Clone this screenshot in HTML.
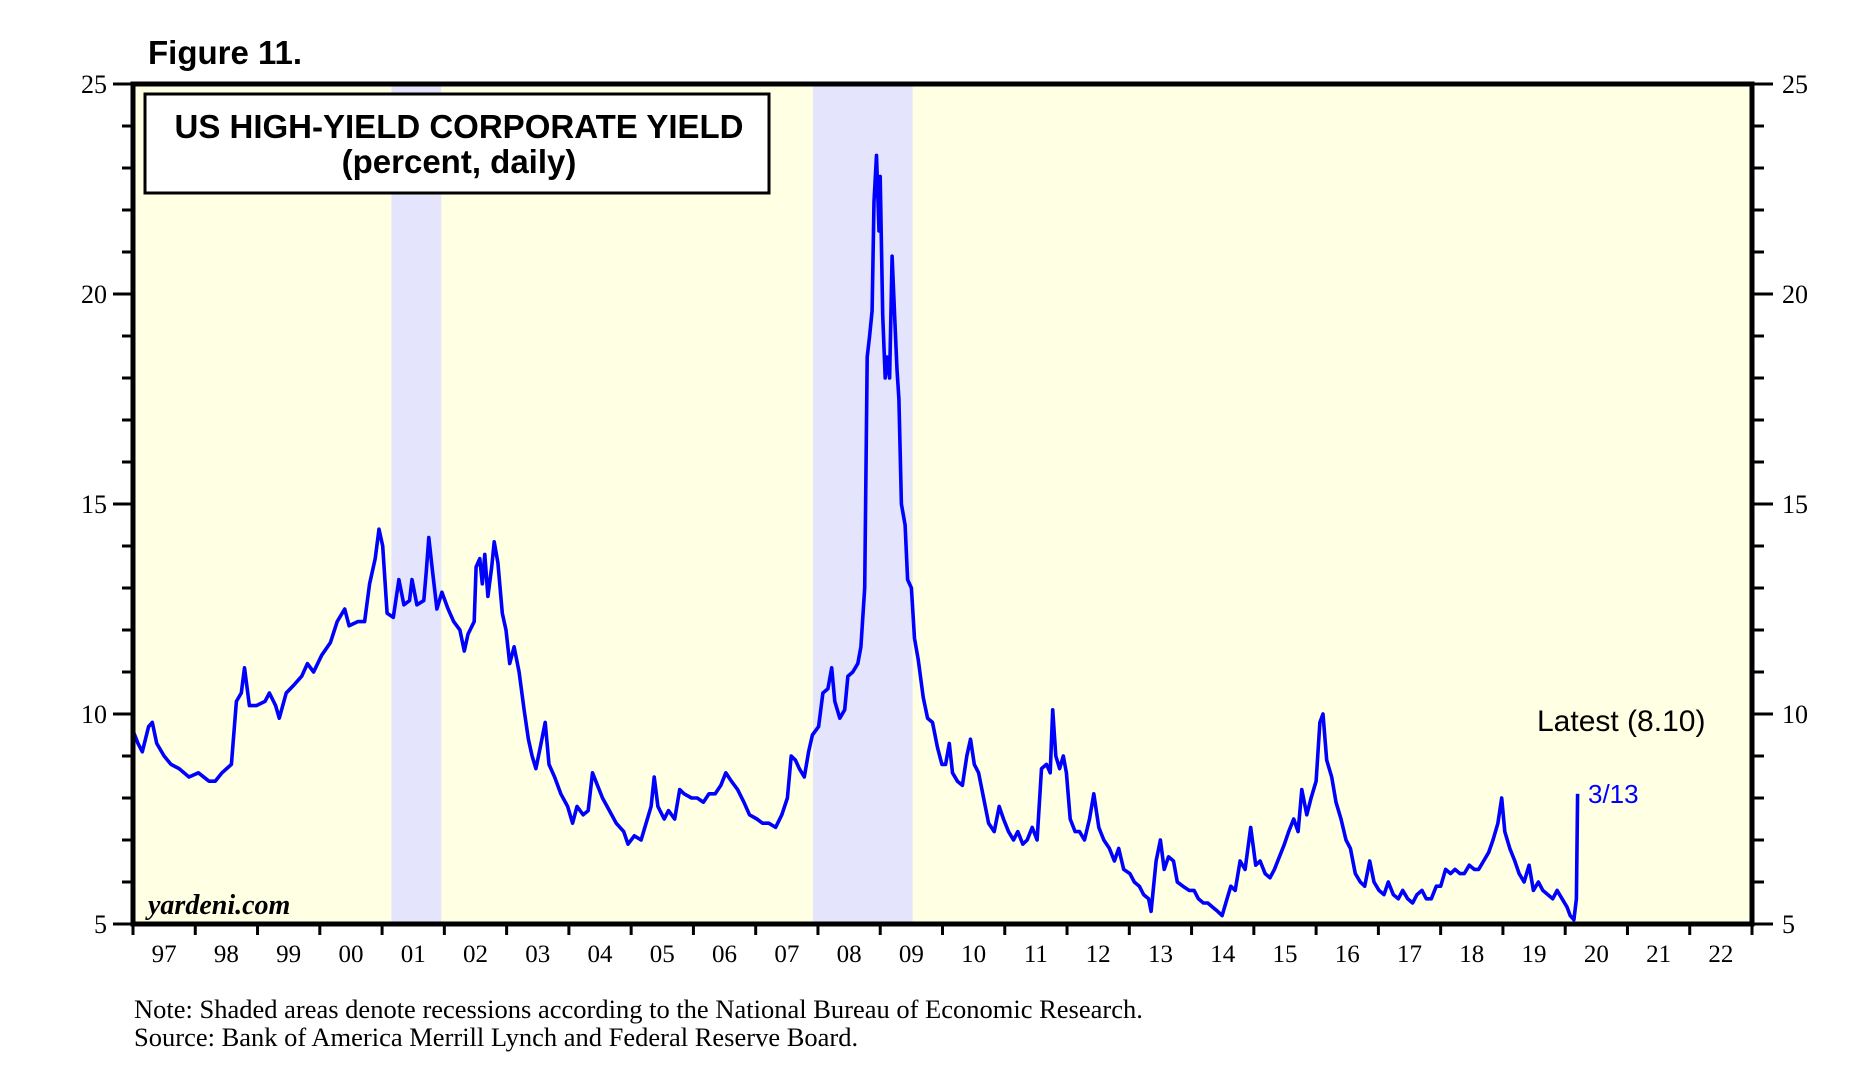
<!DOCTYPE html>
<html><head><meta charset="utf-8"><style>
html,body{margin:0;padding:0;background:#fff;}
svg{display:block;}
</style></head><body>
<svg id="chart" width="1864" height="1089" viewBox="0 0 1864 1089" xmlns="http://www.w3.org/2000/svg">
<text x="148" y="64" font-family="Liberation Sans, sans-serif" font-weight="bold" font-size="33">Figure 11.</text>
<rect x="133" y="84" width="1619" height="840" fill="#ffffe4"/>
<g id="recessions"></g>
<g id="series"></g>
<rect x="133" y="84" width="1619" height="840" fill="none" stroke="#000" stroke-width="5"/>
<g id="axes"></g>
<g>
<rect x="145" y="94" width="624" height="99" fill="#fff" stroke="#000" stroke-width="3"/>
<text x="459" y="138" text-anchor="middle" font-family="Liberation Sans, sans-serif" font-weight="bold" font-size="33">US HIGH-YIELD CORPORATE YIELD</text>
<text x="459" y="173" text-anchor="middle" font-family="Liberation Sans, sans-serif" font-weight="bold" font-size="33">(percent, daily)</text>
</g>
<text x="1537" y="731" font-family="Liberation Sans, sans-serif" font-size="30">Latest (8.10)</text>
<text x="1588" y="803" fill="#0000ff" font-family="Liberation Sans, sans-serif" font-size="26">3/13</text>
<text x="148" y="914" font-family="Liberation Serif, serif" font-style="italic" font-weight="bold" font-size="28">yardeni.com</text>
<text x="134" y="1018" font-family="Liberation Serif, serif" font-size="26.5">Note: Shaded areas denote recessions according to the National Bureau of Economic Research.</text>
<text x="134" y="1046" font-family="Liberation Serif, serif" font-size="26.5">Source: Bank of America Merrill Lynch and Federal Reserve Board.</text>
</svg>
<script>
const dates = [1997.00,1997.08,1997.15,1997.25,1997.31,1997.38,1997.50,1997.61,1997.74,1997.90,1998.05,1998.22,1998.32,1998.43,1998.58,1998.66,1998.74,1998.79,1998.87,1998.98,1999.12,1999.19,1999.29,1999.35,1999.46,1999.59,1999.71,1999.80,1999.90,2000.03,2000.17,2000.28,2000.40,2000.47,2000.61,2000.72,2000.80,2000.89,2000.95,2001.01,2001.08,2001.18,2001.27,2001.35,2001.44,2001.48,2001.56,2001.67,2001.71,2001.75,2001.81,2001.88,2001.96,2002.06,2002.15,2002.25,2002.32,2002.38,2002.48,2002.51,2002.57,2002.61,2002.65,2002.70,2002.76,2002.80,2002.86,2002.93,2002.99,2003.05,2003.12,2003.20,2003.28,2003.35,2003.41,2003.47,2003.54,2003.62,2003.68,2003.77,2003.87,2003.98,2004.06,2004.13,2004.23,2004.31,2004.38,2004.46,2004.54,2004.65,2004.76,2004.88,2004.95,2005.05,2005.16,2005.24,2005.32,2005.37,2005.43,2005.53,2005.60,2005.70,2005.78,2005.85,2005.97,2006.06,2006.16,2006.25,2006.35,2006.44,2006.52,2006.61,2006.71,2006.81,2006.90,2007.02,2007.11,2007.21,2007.32,2007.42,2007.51,2007.57,2007.64,2007.70,2007.78,2007.85,2007.91,2008.01,2008.08,2008.16,2008.22,2008.27,2008.35,2008.43,2008.48,2008.56,2008.64,2008.69,2008.75,2008.79,2008.83,2008.87,2008.90,2008.94,2008.98,2009.00,2009.04,2009.08,2009.11,2009.15,2009.19,2009.23,2009.27,2009.30,2009.34,2009.40,2009.44,2009.50,2009.55,2009.61,2009.69,2009.76,2009.84,2009.92,2009.99,2010.05,2010.11,2010.16,2010.24,2010.32,2010.39,2010.45,2010.51,2010.58,2010.66,2010.74,2010.83,2010.91,2010.98,2011.06,2011.14,2011.21,2011.29,2011.36,2011.44,2011.52,2011.59,2011.67,2011.73,2011.77,2011.82,2011.88,2011.94,2011.99,2012.05,2012.13,2012.20,2012.28,2012.36,2012.43,2012.51,2012.59,2012.68,2012.76,2012.83,2012.91,2013.01,2013.08,2013.16,2013.23,2013.31,2013.35,2013.43,2013.50,2013.56,2013.63,2013.71,2013.77,2013.86,2013.96,2014.04,2014.11,2014.19,2014.26,2014.34,2014.42,2014.49,2014.55,2014.63,2014.70,2014.78,2014.86,2014.95,2015.03,2015.10,2015.18,2015.26,2015.33,2015.41,2015.49,2015.56,2015.64,2015.71,2015.77,2015.85,2015.92,2016.00,2016.06,2016.11,2016.17,2016.25,2016.32,2016.40,2016.48,2016.55,2016.63,2016.71,2016.78,2016.86,2016.93,2017.01,2017.09,2017.16,2017.24,2017.32,2017.39,2017.47,2017.55,2017.62,2017.70,2017.77,2017.85,2017.93,2018.00,2018.08,2018.16,2018.23,2018.31,2018.38,2018.46,2018.54,2018.61,2018.69,2018.77,2018.84,2018.92,2018.98,2019.03,2019.11,2019.19,2019.26,2019.34,2019.42,2019.49,2019.57,2019.64,2019.72,2019.80,2019.87,2019.95,2020.03,2020.08,2020.14,2020.18,2020.20];
const yields = [9.6,9.3,9.1,9.7,9.8,9.3,9.0,8.8,8.7,8.5,8.6,8.4,8.4,8.6,8.8,10.3,10.5,11.1,10.2,10.2,10.3,10.5,10.2,9.9,10.5,10.7,10.9,11.2,11.0,11.4,11.7,12.2,12.5,12.1,12.2,12.2,13.1,13.7,14.4,14.0,12.4,12.3,13.2,12.6,12.7,13.2,12.6,12.7,13.4,14.2,13.4,12.5,12.9,12.5,12.2,12.0,11.5,11.9,12.2,13.5,13.7,13.1,13.8,12.8,13.5,14.1,13.6,12.4,12.0,11.2,11.6,11.0,10.1,9.4,9.0,8.7,9.2,9.8,8.8,8.5,8.1,7.8,7.4,7.8,7.6,7.7,8.6,8.3,8.0,7.7,7.4,7.2,6.9,7.1,7.0,7.4,7.8,8.5,7.8,7.5,7.7,7.5,8.2,8.1,8.0,8.0,7.9,8.1,8.1,8.3,8.6,8.4,8.2,7.9,7.6,7.5,7.4,7.4,7.3,7.6,8.0,9.0,8.9,8.7,8.5,9.1,9.5,9.7,10.5,10.6,11.1,10.3,9.9,10.1,10.9,11.0,11.2,11.6,13.0,18.5,19.0,19.6,22.2,23.3,21.5,22.8,19.5,18.0,18.5,18.0,20.9,19.5,18.2,17.5,15.0,14.5,13.2,13.0,11.8,11.3,10.4,9.9,9.8,9.2,8.8,8.8,9.3,8.6,8.4,8.3,9.0,9.4,8.8,8.6,8.0,7.4,7.2,7.8,7.5,7.2,7.0,7.2,6.9,7.0,7.3,7.0,8.7,8.8,8.6,10.1,9.0,8.7,9.0,8.6,7.5,7.2,7.2,7.0,7.5,8.1,7.3,7.0,6.8,6.5,6.8,6.3,6.2,6.0,5.9,5.7,5.6,5.3,6.5,7.0,6.3,6.6,6.5,6.0,5.9,5.8,5.8,5.6,5.5,5.5,5.4,5.3,5.2,5.5,5.9,5.8,6.5,6.3,7.3,6.4,6.5,6.2,6.1,6.3,6.6,6.9,7.2,7.5,7.2,8.2,7.6,8.0,8.4,9.8,10.0,8.9,8.5,7.9,7.5,7.0,6.8,6.2,6.0,5.9,6.5,6.0,5.8,5.7,6.0,5.7,5.6,5.8,5.6,5.5,5.7,5.8,5.6,5.6,5.9,5.9,6.3,6.2,6.3,6.2,6.2,6.4,6.3,6.3,6.5,6.7,7.0,7.4,8.0,7.2,6.8,6.5,6.2,6.0,6.4,5.8,6.0,5.8,5.7,5.6,5.8,5.6,5.4,5.2,5.1,5.6,8.1];
const recessionStarts = [2001.15, 2007.92];
const recessionEnds = [2001.95, 2009.52];
const yearLabels = ["97","98","99","00","01","02","03","04","05","06","07","08","09","10","11","12","13","14","15","16","17","18","19","20","21","22"];
const yTicks = [5,10,15,20,25];

const NS = "http://www.w3.org/2000/svg";
const X0 = 133, X1 = 1752, Y0 = 924, Y1 = 84, YEAR0 = 1997, YEAR1 = 2023, V0 = 5, V1 = 25;
function xs(t){ return X0 + (t - YEAR0) / (YEAR1 - YEAR0) * (X1 - X0); }
function ys(v){ return Y0 - (v - V0) / (V1 - V0) * (Y0 - Y1); }
function mk(tag, attrs, parent){ const e = document.createElementNS(NS, tag); for (const k in attrs) e.setAttribute(k, attrs[k]); parent.appendChild(e); return e; }

const rg = document.getElementById('recessions');
recessionStarts.forEach((s, i) => {
  const r = mk('rect', {x: xs(s), y: Y1, width: xs(recessionEnds[i]) - xs(s), height: Y0 - Y1, fill: '#e4e4fc'}, rg);
  
  
});

const sg = document.getElementById('series');
let d = '';
dates.forEach((t, i) => { d += (i ? 'L' : 'M') + xs(t).toFixed(1) + ',' + ys(yields[i]).toFixed(1); });
const line = mk('path', {d: d, fill: 'none', stroke: '#0000ff', 'stroke-width': 3.6, 'stroke-linejoin': 'round'}, sg);



const ag = document.getElementById('axes');
for (let v = V0; v <= V1; v++) {
  const major = v % 5 === 0;
  const y = ys(v);
  mk('line', {x1: major ? 113 : 122, x2: X0, y1: y, y2: y, stroke: '#000', 'stroke-width': 3}, ag);
  mk('line', {x1: X1, x2: major ? 1773 : 1764, y1: y, y2: y, stroke: '#000', 'stroke-width': 3}, ag);
}
yTicks.forEach(v => {
  const l = mk('text', {x: 107, y: ys(v) + 9, 'text-anchor': 'end', 'font-family': 'Liberation Serif, serif', 'font-size': 26}, ag);
  l.textContent = v;
  
  
  const r = mk('text', {x: 1782, y: ys(v) + 9, 'font-family': 'Liberation Serif, serif', 'font-size': 26}, ag);
  r.textContent = v;
  
  
});
yearLabels.forEach((lab, i) => {
  const t = YEAR0 + i;
  mk('line', {x1: xs(t), x2: xs(t), y1: Y0, y2: 935, stroke: '#000', 'stroke-width': 3}, ag);
  const e = mk('text', {x: xs(t + 0.5), y: 962, 'text-anchor': 'middle', 'font-family': 'Liberation Serif, serif', 'font-size': 25}, ag);
  e.textContent = lab;
  
  
});
mk('line', {x1: X1, x2: X1, y1: Y0, y2: 935, stroke: '#000', 'stroke-width': 3}, ag);
</script>
</body></html>
